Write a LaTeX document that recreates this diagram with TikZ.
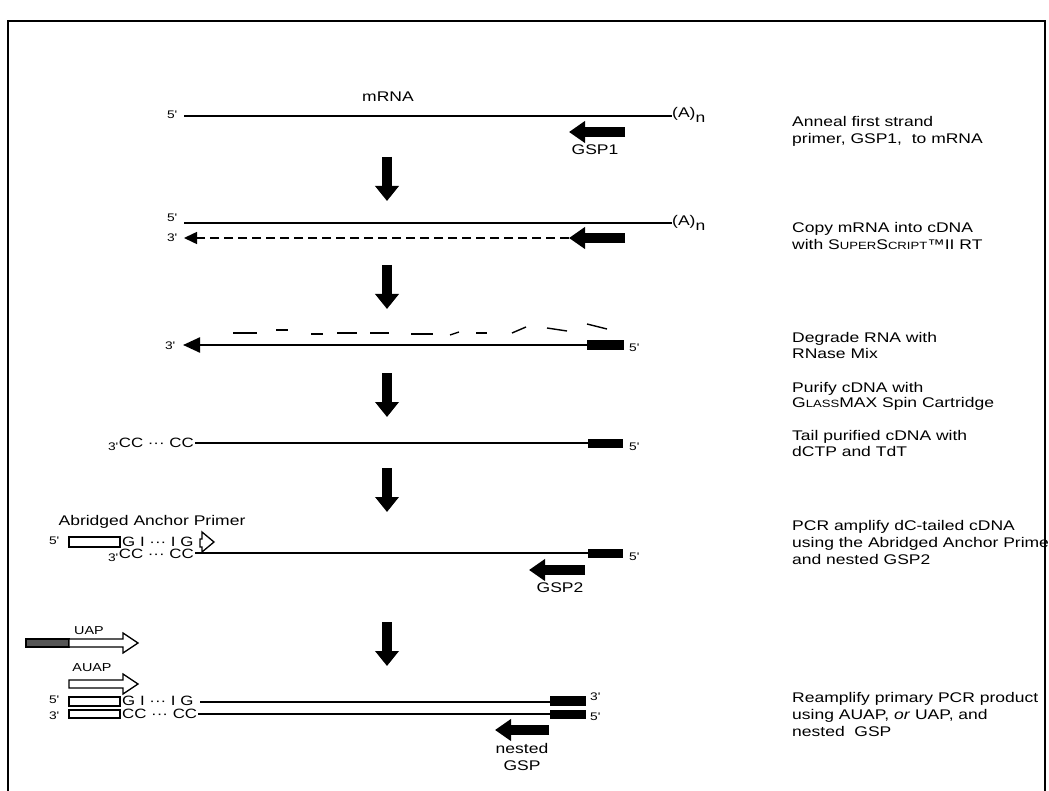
\documentclass[tikz,border=0pt]{standalone}
\usepackage{fontspec}
\setmainfont{Liberation Sans}[FakeStretch=1.25]
\usetikzlibrary{arrows.meta}
\definecolor{bargray}{HTML}{555555}
\newcommand\smc[1]{{\fontsize{10.5}{12}\selectfont #1}}
\newcommand\pr{\textquotesingle}
\begin{document}
\begin{tikzpicture}[x=1pt,y=-1pt,
  strandA/.style={line width=1.7pt},
  strandB/.style={line width=2.4pt},
  frag/.style={line width=1.4pt},
  downarr/.style={line width=10pt,-{Triangle[width=23pt,length=15pt]}},
  gsp/.style={line width=10pt,-{Triangle[width=21pt,length=16pt]}},
  endlbl/.style={inner sep=0pt,font=\fontsize{11}{13}\selectfont},
  lbl/.style={inner sep=0pt,font=\fontsize{14}{16}\selectfont},
  smlbl/.style={inner sep=0pt,font=\fontsize{11.5}{13}\selectfont},
  rt/.style={inner sep=0pt,anchor=base west,font=\fontsize{14}{16}\selectfont},
  seq/.style={inner sep=0pt,font=\fontsize{13.5}{15}\selectfont},
  blk/.style={fill=black},
  pbox/.style={draw=black,fill=white,line width=1.3pt},
  hollow/.style={draw=black,fill=white,line width=1.3pt,line join=miter},
]
\useasboundingbox (0,0) rectangle (1049,791);
% frame
\draw[line width=2.5pt] (8,791) -- (8,21) -- (1045,21) -- (1045,791);

% ---- row 1
\node[endlbl,anchor=east] (r1p5) at (177,115) {5\pr};
\coordinate (r1a) at (184,116); \coordinate (r1b) at (672,116);
\draw[strandA] (r1a) -- (r1b);
\node[lbl,anchor=base west] (r1an) at (672,118) {(A)\raisebox{-5pt}{n}};
\node[lbl] (mrna) at (388,97) {mRNA};
\coordinate (g1t) at (625,132); \coordinate (g1h) at (569,132);
\draw[gsp] (g1t) -- (g1h);
\node[lbl] (gsp1) at (595,150) {GSP1};

\coordinate (d1a) at (387,157); \coordinate (d1b) at (387,201);
\draw[downarr] (d1a) -- (d1b);

% ---- row 2
\node[endlbl,anchor=east] (r2p5) at (177,218) {5\pr};
\coordinate (r2a) at (184,223); \coordinate (r2b) at (672,223);
\draw[strandA] (r2a) -- (r2b);
\node[lbl,anchor=base west] (r2an) at (672,226) {(A)\raisebox{-5pt}{n}};
\node[endlbl,anchor=east] (r2p3) at (177,238) {3\pr};
\coordinate (r2c) at (184,238); \coordinate (g2h) at (569,238); \coordinate (g2t) at (625,238);
\draw[line width=1.5pt,dash pattern=on 9pt off 5pt,-{Triangle[width=12pt,length=13pt]}] (g2h) -- (r2c);
\draw[gsp] (g2t) -- (g2h);

\coordinate (d2a) at (387,265); \coordinate (d2b) at (387,309);
\draw[downarr] (d2a) -- (d2b);

% ---- row 3
\draw[frag] (233,333) -- (257,333);
\draw[frag] (276,330) -- (288,330);
\draw[frag] (311,334) -- (323,334);
\draw[frag] (337,333) -- (357,333);
\draw[frag] (370,333) -- (389,333);
\draw[frag] (411,334) -- (433,334);
\draw[frag] (450,335) -- (459,332);
\draw[frag] (476,333) -- (487,333);
\draw[frag] (512,333) -- (526,327);
\draw[frag] (547,328) -- (567,331);
\draw[frag] (587,324) -- (607,329);
\node[endlbl,anchor=east] (r3p3) at (175,346) {3\pr};
\coordinate (r3a) at (183,345); \coordinate (r3b) at (588,345);
\draw[strandB,-{Triangle[width=15pt,length=17pt]}] (r3b) -- (r3a);
\fill[blk] (587,340) rectangle (624,350);
\node[endlbl,anchor=west] (r3p5) at (629,348) {5\pr};

\coordinate (d3a) at (387,373); \coordinate (d3b) at (387,417);
\draw[downarr] (d3a) -- (d3b);

% ---- row 4
\node[endlbl,anchor=east] (r4p3) at (118,447) {3\pr};
\node[seq,anchor=east] (r4cc) at (194,443) {CC ··· CC};
\coordinate (r4a) at (195,443); \coordinate (r4b) at (588,443);
\draw[strandB] (r4a) -- (r4b);
\fill[blk] (588,439) rectangle (623,448);
\node[endlbl,anchor=west] (r4p5) at (629,447) {5\pr};

\coordinate (d4a) at (387,468); \coordinate (d4b) at (387,512);
\draw[downarr] (d4a) -- (d4b);

% ---- row 5
\node[lbl] (aap) at (152,522) {Abridged Anchor Primer};
\node[endlbl,anchor=east] (r5p5) at (59,541) {5\pr};
\draw[pbox] (69,537) rectangle (120,547);
\node[seq,anchor=west] (r5gi) at (122,542) {G I ··· I G};
\draw[hollow] (200,539) -- (202,539) -- (202,532) -- (214,542) -- (202,552) -- (202,547) -- (200,547) -- cycle;
\node[endlbl,anchor=east] (r5p3) at (118,558) {3\pr};
\node[seq,anchor=east] (r5cc) at (194,554) {CC ··· CC};
\coordinate (r5a) at (195,553); \coordinate (r5b) at (588,553);
\draw[strandB] (r5a) -- (r5b);
\fill[blk] (588,549) rectangle (623,558);
\node[endlbl,anchor=west] (r5q5) at (629,557) {5\pr};
\coordinate (g5t) at (585,570); \coordinate (g5h) at (529,570);
\draw[gsp] (g5t) -- (g5h);
\node[lbl] (gsp2) at (560,588) {GSP2};

\coordinate (d5a) at (387,622); \coordinate (d5b) at (387,666);
\draw[downarr] (d5a) -- (d5b);

% ---- row 6 : UAP, AUAP
\node[smlbl] (uap) at (89,631) {UAP};
\draw[line width=1.3pt,fill=bargray] (26,639) rectangle (69,647);
\draw[hollow] (69,639) -- (123,639) -- (123,633) -- (138,643) -- (123,653) -- (123,647) -- (69,647) -- cycle;
\node[smlbl] (auap) at (92,668) {AUAP};
\draw[hollow] (69,680) -- (123,680) -- (123,674) -- (138,684) -- (123,694) -- (123,688) -- (69,688) -- cycle;

% ---- row 7
\node[endlbl,anchor=east] (r7p5) at (59,700) {5\pr};
\draw[pbox] (69,697) rectangle (120,706);
\node[seq,anchor=west] (r7gi) at (122,701) {G I ··· I G};
\coordinate (r7a) at (200,702); \coordinate (r7b) at (551,702);
\draw[strandB] (r7a) -- (r7b);
\fill[blk] (550,696) rectangle (586,706);
\node[endlbl,anchor=west] (r7q3) at (590,697) {3\pr};

\node[endlbl,anchor=east] (r7p3) at (59,716) {3\pr};
\draw[pbox] (69,710) rectangle (120,718);
\node[seq,anchor=west] (r7cc) at (122,714) {CC ··· CC};
\coordinate (r7c) at (198,714); \coordinate (r7d) at (551,714);
\draw[strandB] (r7c) -- (r7d);
\fill[blk] (550,710) rectangle (586,719);
\node[endlbl,anchor=west] (r7q5) at (590,717) {5\pr};

\coordinate (g7t) at (549,730); \coordinate (g7h) at (495,730);
\draw[gsp] (g7t) -- (g7h);
\node[lbl] (nest1) at (522,748) {nested};
\node[lbl] (nest2) at (522,766) {GSP};

% ---- right column
\node[rt] (t1a) at (792,127) {Anneal first strand};
\node[rt] (t1b) at (792,144) {primer, GSP1,\ \ to mRNA};
\node[rt] (t2a) at (792,233) {Copy mRNA into cDNA};
\node[rt] (t2b) at (792,250) {with S\smc{UPER}S\smc{CRIPT}™II RT};
\node[rt] (t3a) at (792,343) {Degrade RNA with};
\node[rt] (t3b) at (792,359) {RNase Mix};
\node[rt] (t4a) at (792,392) {Purify cDNA with};
\node[rt] (t4b) at (792,407) {G\smc{LASS}MAX Spin Cartridge};
\node[rt] (t5a) at (792,440) {Tail purified cDNA with};
\node[rt] (t5b) at (792,456) {dCTP and TdT};
\node[rt] (t6a) at (792,530) {PCR amplify dC-tailed cDNA};
\node[rt] (t6b) at (792,547) {using the Abridged Anchor Prime};
\node[rt] (t6c) at (792,564) {and nested GSP2};
\node[rt] (t7a) at (792,702) {Reamplify primary PCR product};
\node[rt] (t7b) at (792,719) {using AUAP, \textit{or} UAP, and};
\node[rt] (t7c) at (792,736) {nested\ \ GSP};
\end{tikzpicture}
\end{document}
